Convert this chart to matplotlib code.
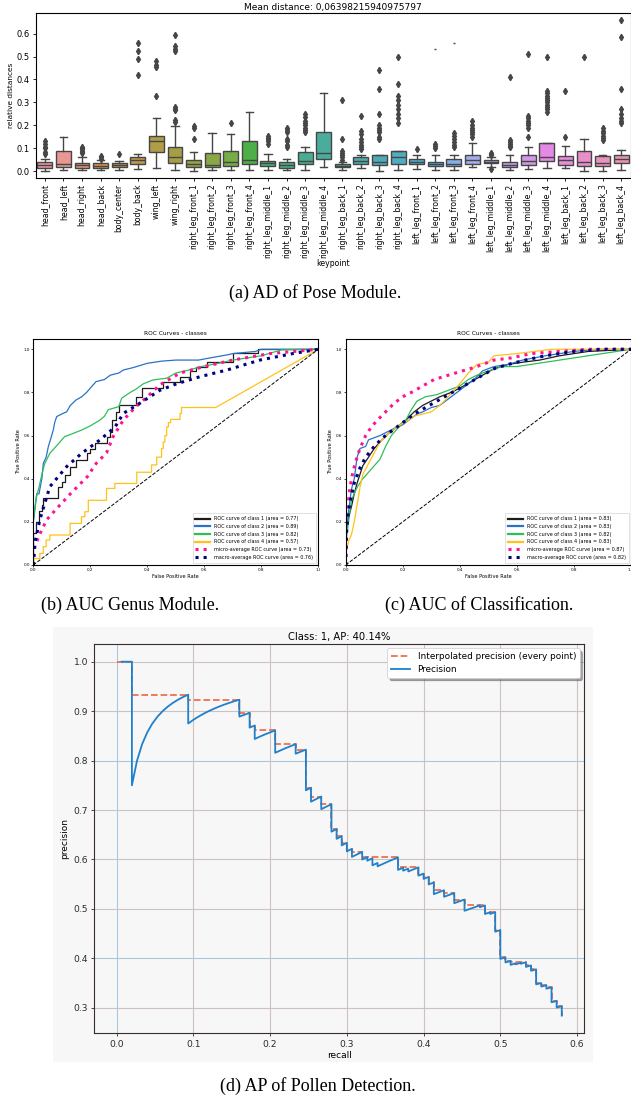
import colorsys
import numpy as np
import matplotlib
matplotlib.use("Agg")
import matplotlib.pyplot as plt
from matplotlib.patches import Rectangle
import seaborn as sns

# ---------------- (a) relative keypoint distances ----------------
keypoints = [
    "head_front", "head_left", "head_right", "head_back", "body_center", "body_back",
    "wing_left", "wing_right",
    "right_leg_front_1", "right_leg_front_2", "right_leg_front_3", "right_leg_front_4",
    "right_leg_middle_1", "right_leg_middle_2", "right_leg_middle_3", "right_leg_middle_4",
    "right_leg_back_1", "right_leg_back_2", "right_leg_back_3", "right_leg_back_4",
    "left_leg_front_1", "left_leg_front_2", "left_leg_front_3", "left_leg_front_4",
    "left_leg_middle_1", "left_leg_middle_2", "left_leg_middle_3", "left_leg_middle_4",
    "left_leg_back_1", "left_leg_back_2", "left_leg_back_3", "left_leg_back_4",
]
box_whislo = [0.0, 0.004, 0.004, 0.004, 0.004, 0.009, 0.015, 0.007,
              0.0, 0.004, 0.004, 0.007, 0.004, 0.004, 0.004, 0.016,
              0.004, 0.012, 0.0, 0.007, 0.01, 0.004, 0.004, 0.016,
              0.02, 0.004, 0.009, 0.012, 0.015, 0.0, 0.0, 0.004]
box_q1 = [0.012, 0.019, 0.015, 0.015, 0.016, 0.031, 0.082, 0.037,
          0.019, 0.019, 0.022, 0.029, 0.023, 0.015, 0.031, 0.053,
          0.016, 0.029, 0.025, 0.031, 0.029, 0.023, 0.022, 0.031,
          0.034, 0.019, 0.026, 0.045, 0.026, 0.023, 0.023, 0.037]
box_med = [0.026, 0.029, 0.026, 0.023, 0.025, 0.048, 0.13, 0.06,
           0.029, 0.025, 0.038, 0.047, 0.035, 0.028, 0.045, 0.08,
           0.023, 0.045, 0.038, 0.06, 0.04, 0.032, 0.032, 0.047,
           0.042, 0.028, 0.044, 0.061, 0.05, 0.038, 0.037, 0.054]
box_q3 = [0.038, 0.089, 0.034, 0.034, 0.034, 0.06, 0.155, 0.107,
          0.047, 0.079, 0.089, 0.13, 0.045, 0.041, 0.085, 0.17,
          0.031, 0.06, 0.07, 0.089, 0.053, 0.042, 0.053, 0.07,
          0.048, 0.042, 0.069, 0.124, 0.064, 0.089, 0.064, 0.07]
box_whishi = [0.055, 0.151, 0.06, 0.05, 0.045, 0.076, 0.234, 0.199,
              0.085, 0.168, 0.162, 0.258, 0.075, 0.051, 0.107, 0.34,
              0.041, 0.069, 0.07, 0.089, 0.069, 0.07, 0.07, 0.124,
              0.063, 0.069, 0.104, 0.124, 0.11, 0.139, 0.069, 0.092]
box_fliers = [
    [0.075, 0.085, 0.1, 0.105, 0.12, 0.13],
    [],
    [0.08, 0.085, 0.09, 0.095, 0.1, 0.105],
    [0.055, 0.06, 0.065],
    [0.073],
    [0.42, 0.49, 0.525, 0.56],
    [0.33, 0.455, 0.465, 0.48],
    [0.215, 0.225, 0.265, 0.27, 0.28, 0.525, 0.535, 0.545, 0.595],
    [0.14, 0.19, 0.195],
    [],
    [0.209],
    [],
    [0.12, 0.13, 0.14, 0.145, 0.155],
    [0.105, 0.115, 0.13, 0.14, 0.17, 0.18, 0.19],
    [0.17, 0.18, 0.19, 0.2, 0.21, 0.22, 0.235, 0.25],
    [],
    [0.05, 0.06, 0.07, 0.08, 0.09, 0.14, 0.31],
    [0.095, 0.105, 0.115, 0.125, 0.14, 0.16, 0.175, 0.24],
    [0.14, 0.15, 0.17, 0.18, 0.19, 0.2, 0.25, 0.36, 0.44],
    [0.21, 0.23, 0.25, 0.27, 0.29, 0.31, 0.33, 0.38, 0.5],
    [0.098],
    [0.1, 0.108, 0.118],
    [0.105, 0.115, 0.125, 0.14, 0.155, 0.165],
    [0.15, 0.16, 0.17, 0.18, 0.19, 0.2, 0.22],
    [0.01, 0.07, 0.075, 0.08],
    [0.105, 0.11, 0.12, 0.125, 0.135, 0.41],
    [0.15, 0.19, 0.2, 0.21, 0.22, 0.23, 0.24, 0.51],
    [0.26, 0.27, 0.28, 0.29, 0.3, 0.31, 0.32, 0.33, 0.34, 0.35, 0.5],
    [0.15, 0.35],
    [0.498],
    [0.135, 0.145, 0.155, 0.165, 0.175, 0.19],
    [0.21, 0.22, 0.23, 0.25, 0.27, 0.36, 0.585, 0.66],
]
stray_idx = [21, 22]
stray_val = [0.535, 0.557]

# ---------------- (b) ROC, genus module ----------------
b_c1_fpr = [0.0, 0.0, 0.01, 0.02, 0.03, 0.035, 0.088, 0.10, 0.111, 0.128, 0.15, 0.187, 0.199, 0.216,
            0.257, 0.269, 0.275, 0.29, 0.30, 0.36, 0.38, 0.456, 0.515, 0.55, 0.57, 0.61, 0.70, 0.79, 1.0]
b_c1_tpr = [0.0, 0.15, 0.20, 0.25, 0.28, 0.31, 0.363, 0.386, 0.417, 0.456, 0.487, 0.518, 0.54, 0.564,
            0.595, 0.618, 0.672, 0.71, 0.742, 0.78, 0.82, 0.85, 0.873, 0.90, 0.92, 0.943, 0.981, 1.0, 1.0]
b_c2_fpr = [0.0, 0.0, 0.005, 0.012, 0.02, 0.03, 0.035, 0.045, 0.053, 0.06, 0.07, 0.075, 0.082, 0.10,
            0.117, 0.13, 0.15, 0.17, 0.187, 0.20, 0.22, 0.25, 0.27, 0.30, 0.316, 0.35, 0.40, 0.45,
            0.50, 0.58, 0.62, 0.68, 0.70, 0.78, 0.80, 1.0]
b_c2_tpr = [0.0, 0.20, 0.25, 0.33, 0.33, 0.40, 0.47, 0.50, 0.55, 0.58, 0.625, 0.66, 0.688, 0.70,
            0.71, 0.74, 0.765, 0.78, 0.80, 0.82, 0.85, 0.86, 0.88, 0.89, 0.904, 0.915, 0.935, 0.945,
            0.95, 0.95, 0.96, 0.974, 0.98, 0.99, 1.0, 1.0]
b_c3_fpr = [0.0, 0.0, 0.005, 0.01, 0.02, 0.03, 0.04, 0.058, 0.08, 0.11, 0.14, 0.17, 0.20, 0.234,
            0.25, 0.263, 0.30, 0.31, 0.34, 0.36, 0.386, 0.42, 0.468, 0.50, 0.55, 0.59, 0.65, 0.70,
            0.80, 0.87, 0.95, 1.0]
b_c3_tpr = [0.0, 0.20, 0.26, 0.31, 0.36, 0.42, 0.47, 0.518, 0.55, 0.595, 0.61, 0.626, 0.645, 0.672,
            0.69, 0.72, 0.734, 0.773, 0.80, 0.815, 0.84, 0.858, 0.866, 0.89, 0.905, 0.92, 0.935, 0.95,
            0.97, 0.997, 1.0, 1.0]
b_c4_fpr = [0.0, 0.0, 0.023, 0.035, 0.045, 0.058, 0.129, 0.169, 0.181, 0.193, 0.257, 0.286, 0.363,
            0.415, 0.433, 0.45, 0.456, 0.462, 0.468, 0.474, 0.482, 0.515, 0.52, 0.64, 1.0]
b_c4_tpr = [0.0, 0.03, 0.054, 0.085, 0.116, 0.139, 0.193, 0.224, 0.247, 0.30, 0.355, 0.378, 0.43,
            0.464, 0.50, 0.54, 0.57, 0.60, 0.64, 0.66, 0.675, 0.703, 0.73, 0.73, 1.0]
b_stepped = [True, False, False, True]
b_micro_fpr = [0.0, 0.005, 0.018, 0.047, 0.088, 0.13, 0.19, 0.22, 0.257, 0.28, 0.316, 0.36, 0.40,
               0.444, 0.515, 0.60, 0.70, 0.83, 1.0]
b_micro_tpr = [0.0, 0.08, 0.13, 0.21, 0.27, 0.33, 0.41, 0.47, 0.52, 0.595, 0.672, 0.734, 0.78,
               0.835, 0.89, 0.92, 0.95, 0.98, 1.0]
b_macro_fpr = [0.0, 0.005, 0.023, 0.058, 0.117, 0.17, 0.234, 0.287, 0.316, 0.374, 0.444, 0.503,
               0.585, 0.68, 0.795, 0.91, 1.0]
b_macro_tpr = [0.0, 0.10, 0.21, 0.363, 0.456, 0.518, 0.58, 0.64, 0.703, 0.75, 0.81, 0.84, 0.873,
               0.904, 0.95, 0.98, 1.0]
b_areas = [0.77, 0.89, 0.82, 0.57, 0.73, 0.76]

# ---------------- (c) ROC, classification ----------------
c_c1_fpr = [0.0, 0.0, 0.01, 0.02, 0.03, 0.04, 0.05, 0.06, 0.08, 0.10, 0.12, 0.15, 0.18, 0.21, 0.24,
            0.27, 0.30, 0.33, 0.37, 0.40, 0.44, 0.48, 0.52, 0.57, 0.62, 0.68, 0.75, 0.85, 1.0]
c_c1_tpr = [0.0, 0.15, 0.22, 0.27, 0.33, 0.38, 0.42, 0.46, 0.50, 0.54, 0.57, 0.61, 0.64, 0.67, 0.71,
            0.74, 0.76, 0.78, 0.80, 0.82, 0.85, 0.88, 0.91, 0.93, 0.94, 0.95, 0.97, 0.99, 1.0]
c_c2_fpr = [0.0, 0.0, 0.01, 0.02, 0.03, 0.04, 0.05, 0.07, 0.08, 0.10, 0.12, 0.15, 0.18, 0.20, 0.22,
            0.25, 0.27, 0.30, 0.33, 0.36, 0.39, 0.42, 0.45, 0.48, 0.52, 0.57, 0.62, 0.70, 0.80, 0.88, 1.0]
c_c2_tpr = [0.0, 0.12, 0.25, 0.35, 0.40, 0.50, 0.54, 0.55, 0.58, 0.59, 0.60, 0.62, 0.64, 0.65, 0.67,
            0.70, 0.71, 0.73, 0.74, 0.77, 0.80, 0.83, 0.86, 0.90, 0.92, 0.93, 0.95, 0.97, 0.99, 1.0, 1.0]
c_c3_fpr = [0.0, 0.0, 0.01, 0.02, 0.04, 0.06, 0.08, 0.10, 0.12, 0.14, 0.16, 0.18, 0.21, 0.23, 0.25,
            0.28, 0.32, 0.36, 0.40, 0.43, 0.46, 0.50, 0.55, 0.60, 0.70, 0.80, 0.90, 1.0]
c_c3_tpr = [0.0, 0.10, 0.20, 0.30, 0.36, 0.40, 0.43, 0.46, 0.49, 0.55, 0.60, 0.63, 0.67, 0.72, 0.76,
            0.78, 0.79, 0.81, 0.83, 0.86, 0.88, 0.90, 0.92, 0.92, 0.94, 0.96, 0.98, 1.0]
c_c4_fpr = [0.0, 0.0, 0.01, 0.02, 0.03, 0.04, 0.05, 0.06, 0.08, 0.10, 0.12, 0.15, 0.19, 0.22, 0.24,
            0.27, 0.30, 0.33, 0.36, 0.38, 0.40, 0.43, 0.46, 0.50, 0.52, 0.60, 0.72, 1.0]
c_c4_tpr = [0.0, 0.05, 0.11, 0.14, 0.20, 0.28, 0.36, 0.42, 0.47, 0.52, 0.57, 0.61, 0.65, 0.67, 0.69,
            0.70, 0.71, 0.74, 0.78, 0.81, 0.84, 0.89, 0.93, 0.94, 0.97, 0.98, 1.0, 1.0]
c_stepped = [False, False, False, False]
c_micro_fpr = [0.0, 0.003, 0.01, 0.015, 0.025, 0.035, 0.05, 0.07, 0.09, 0.11, 0.14, 0.17, 0.20, 0.23,
               0.27, 0.31, 0.36, 0.41, 0.46, 0.52, 0.58, 0.65, 0.75, 0.85, 1.0]
c_micro_tpr = [0.0, 0.20, 0.30, 0.36, 0.43, 0.48, 0.54, 0.60, 0.64, 0.67, 0.71, 0.75, 0.78, 0.80,
               0.83, 0.86, 0.88, 0.90, 0.92, 0.95, 0.96, 0.98, 0.99, 1.0, 1.0]
c_macro_fpr = [0.0, 0.003, 0.01, 0.02, 0.03, 0.05, 0.07, 0.10, 0.13, 0.16, 0.20, 0.24, 0.28, 0.32,
               0.36, 0.40, 0.44, 0.48, 0.52, 0.57, 0.63, 0.70, 0.80, 0.90, 1.0]
c_macro_tpr = [0.0, 0.15, 0.25, 0.32, 0.38, 0.45, 0.50, 0.55, 0.59, 0.62, 0.66, 0.70, 0.73, 0.76,
               0.79, 0.82, 0.85, 0.88, 0.91, 0.93, 0.95, 0.97, 0.99, 1.0, 1.0]
c_areas = [0.83, 0.83, 0.82, 0.83, 0.87, 0.82]

# ---------------- (d) pollen detection, ranked detections ----------------
# detections sorted by confidence, as alternating runs of true / false positives
ap_n_ground_truth = 150
ap_tp_runs = [3, 11, 10, 2, 1, 4, 4, 2, 1, 2, 2, 1, 1, 1, 1, 2, 1, 1, 1, 4, 1, 1, 2,
              1, 1, 1, 2, 2, 2, 3, 1, 1, 1, 1, 1, 1, 1, 1, 1, 1, 1, 1, 1, 1, 1, 1]
ap_fp_runs = [1, 1, 1, 1, 1, 2, 1, 5, 2, 2, 5, 2, 2, 2, 2, 2, 1, 2, 1, 4, 1, 1, 3,
              2, 3, 5, 3, 5, 6, 1, 5, 1, 13, 24, 5, 4, 1, 1, 5, 6, 19, 5, 5, 24, 12, 19]

FIG_W, FIG_H = 631, 1105


def add_axes_px(fig, left, top, right, bottom):
    return fig.add_axes([left / FIG_W, 1 - bottom / FIG_H,
                         (right - left) / FIG_W, (bottom - top) / FIG_H])


def caption(fig, x, y, text):
    fig.text(x / FIG_W, 1 - y / FIG_H, text, ha='center', va='center',
             family='Liberation Serif', fontsize=13)


def staircase(fpr, tpr):
    # run right at the current tpr, then rise at the next fpr
    xs = np.repeat(fpr, 2)[1:]
    ys = np.repeat(tpr, 2)[:-1]
    return xs, ys


fig = plt.figure(figsize=(FIG_W / 100, FIG_H / 100), dpi=100)
fig.patch.set_facecolor('white')

# ---- (a) box plot, seaborn-like look ----
ax = add_axes_px(fig, 35.5, 13, 630.5, 178)
base = sns.husl_palette(len(keypoints), l=.7)
box_colors = [sns.desaturate(c, .75) for c in base]
lum = min(colorsys.rgb_to_hls(*c)[1] for c in box_colors) * .6
edge = (lum, lum, lum)

stats = []
for i, name in enumerate(keypoints):
    stats.append(dict(label=name, whislo=box_whislo[i], q1=box_q1[i], med=box_med[i],
                      q3=box_q3[i], whishi=box_whishi[i], fliers=box_fliers[i]))
bp = ax.bxp(stats, positions=np.arange(len(keypoints)), widths=0.8, patch_artist=True,
            boxprops=dict(edgecolor=edge, linewidth=1.0),
            medianprops=dict(color=edge, linewidth=1.0),
            whiskerprops=dict(color=edge, linewidth=1.0),
            capprops=dict(color=edge, linewidth=1.0),
            flierprops=dict(marker='d', markerfacecolor=edge, markeredgecolor=edge,
                            markersize=3.2, linestyle='none'))
for patch, c in zip(bp['boxes'], box_colors):
    patch.set_facecolor(c)
ax.plot(stray_idx, stray_val, linestyle='none', marker='_', markersize=2, color=edge)

ax.set_xlim(-0.5, len(keypoints) - 0.5)
ax.set_ylim(-0.03, 0.69)
ax.set_yticks(np.arange(0, 0.61, 0.1))
ax.set_yticklabels([f"{v:.1f}" for v in np.arange(0, 0.61, 0.1)], fontsize=6)
ax.set_xticks(np.arange(len(keypoints)))
ax.set_xticklabels(keypoints, rotation=90, fontsize=5.6)
ax.tick_params(length=2.5, width=0.6, pad=1.5)
ax.set_xlabel("keypoint", fontsize=5.6, labelpad=1)
ax.set_ylabel("relative distances", fontsize=5.3, labelpad=2)
ax.set_title("Mean distance: 0,06398215940975797", fontsize=6.5, pad=2)
for s in ax.spines.values():
    s.set_linewidth(0.8)
caption(fig, 315, 293, "(a) AD of Pose Module.")

# ---- (b) and (c) ROC panels ----
class_colors = ['#1c1c1c', '#2a72c8', '#2fbf57', '#ffc21a']


def roc_panel(ax, curves, stepped, micro, macro, areas):
    for k, (fpr, tpr) in enumerate(curves):
        if stepped[k]:
            xs, ys = staircase(fpr[:-1], tpr[:-1])
            xs, ys = np.r_[xs, fpr[-1]], np.r_[ys, tpr[-1]]
        else:
            xs, ys = fpr, tpr
        ax.plot(xs, ys, color=class_colors[k], lw=0.9,
                label=f"ROC curve of class {k + 1} (area = {areas[k]:.2f})")
    ax.plot(micro[0], micro[1], color='deeppink', linestyle=':', lw=2.2,
            label=f"micro-average ROC curve (area = {areas[4]:.2f})")
    ax.plot(macro[0], macro[1], color='navy', linestyle=':', lw=2.2,
            label=f"macro-average ROC curve (area = {areas[5]:.2f})")
    ax.plot([0, 1], [0, 1], 'k--', lw=0.7)
    ax.set_xlim(0, 1)
    ax.set_ylim(0, 1.05)
    ax.set_xticks(np.arange(0, 1.01, 0.2))
    ax.set_yticks(np.arange(0, 1.01, 0.2))
    ax.tick_params(labelsize=3, length=1.5, width=0.5, pad=1)
    ax.set_xlabel("False Positive Rate", fontsize=3.6, labelpad=1)
    ax.set_ylabel("True Positive Rate", fontsize=3.6, labelpad=2)
    ax.set_title("ROC Curves - classes", fontsize=4.2, pad=2.5)
    for s in ax.spines.values():
        s.set_linewidth(0.8)
    leg = ax.legend(loc='lower right', fontsize=3.5, handlelength=3, borderpad=0.6,
                    labelspacing=0.55, fancybox=False, edgecolor='#cccccc')
    leg.get_frame().set_linewidth(0.5)
    for line in leg.get_lines()[:4]:
        line.set_linewidth(1.6)


ax_b = add_axes_px(fig, 33.3, 338.5, 318.3, 565)
roc_panel(ax_b,
          [(b_c1_fpr, b_c1_tpr), (b_c2_fpr, b_c2_tpr), (b_c3_fpr, b_c3_tpr), (b_c4_fpr, b_c4_tpr)],
          b_stepped, (b_micro_fpr, b_micro_tpr), (b_macro_fpr, b_macro_tpr), b_areas)

ax_c = add_axes_px(fig, 345.7, 338.5, 631, 565)
roc_panel(ax_c,
          [(c_c1_fpr, c_c1_tpr), (c_c2_fpr, c_c2_tpr), (c_c3_fpr, c_c3_tpr), (c_c4_fpr, c_c4_tpr)],
          c_stepped, (c_micro_fpr, c_micro_tpr), (c_macro_fpr, c_macro_tpr), c_areas)

# the (b) image is cropped just right of its last tick label
fig.patches.append(Rectangle((320 / FIG_W, 1 - 580 / FIG_H), 10 / FIG_W, 14 / FIG_H,
                             transform=fig.transFigure, facecolor='white',
                             edgecolor='none', zorder=10))
caption(fig, 130, 605, "(b) AUC Genus Module.")
caption(fig, 479, 605, "(c) AUC of Classification.")

# ---- (d) precision / recall ----
hits = np.concatenate([np.r_[np.ones(t), np.zeros(f)] for t, f in zip(ap_tp_runs, ap_fp_runs)])
tp_cum = np.cumsum(hits)
recall = tp_cum / ap_n_ground_truth
precision = tp_cum / np.arange(1, len(hits) + 1)
mrec = np.r_[0.0, recall]
mpre = np.maximum.accumulate(np.r_[0.0, precision][::-1])[::-1]

bg = '#f7f7f8'
fig.patches.append(Rectangle((53 / FIG_W, 1 - 1062 / FIG_H), 540 / FIG_W, 435 / FIG_H,
                             transform=fig.transFigure, facecolor=bg, edgecolor='none',
                             zorder=-1))
ax_d = add_axes_px(fig, 94.3, 644, 584, 1033.3)
ax_d.set_facecolor(bg)
ax_d.plot(mrec, mpre, '--', color='#f0704f', lw=1.3, label='Interpolated precision (every point)')
ax_d.plot(recall, precision, color='#1f80cc', lw=1.3, label='Precision')
ax_d.margins(0.05)
ax_d.set_xticks(np.arange(0, 0.61, 0.1))
ax_d.set_yticks(np.arange(0.3, 1.01, 0.1))
for v in np.arange(0, 0.61, 0.1):
    ax_d.axvline(v, color='#a9c8dc' if v < 0.05 else '#cdc2c0', lw=0.8, zorder=0)
for v in np.arange(0.3, 1.01, 0.1):
    blue = abs(v - 0.4) < 0.01 or abs(v - 0.8) < 0.01
    ax_d.axhline(v, color='#a9c8dc' if blue else '#cdc2c0', lw=0.8, zorder=0)
ax_d.tick_params(labelsize=6.6, length=2.5, width=0.6, pad=2, colors='#2a2a2a')
ax_d.set_xlabel("recall", fontsize=6.5, labelpad=2)
ax_d.set_ylabel("precision", fontsize=6.5, labelpad=3)
ax_d.set_title("Class: 1, AP: 40.14%", fontsize=7.2, pad=3)
for s in ax_d.spines.values():
    s.set_color('#3a2c2a')
    s.set_linewidth(0.8)
leg = ax_d.legend(loc='upper right', shadow=True, fontsize=6.4, handlelength=2.2)
leg.get_frame().set_linewidth(0.5)
caption(fig, 318, 1086, "(d) AP of Pollen Detection.")

fig.savefig("out.png", dpi=100, facecolor='white')
